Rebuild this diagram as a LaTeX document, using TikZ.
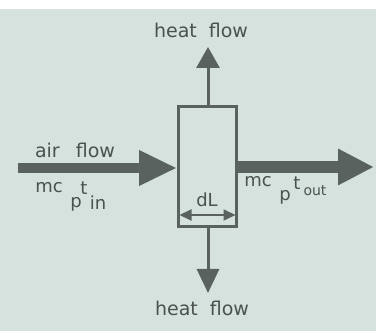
\documentclass[tikz,border=0pt]{standalone}
\usepackage{fontspec}
\setmainfont{DejaVu Sans}
\usetikzlibrary{arrows.meta}
\definecolor{bg}{HTML}{D5E2DD}
\definecolor{ink}{HTML}{4A524E}
\definecolor{arr}{HTML}{59625E}
\tikzset{
  lbl/.style={text=ink, inner sep=0pt, font=\fontsize{19}{22}\selectfont},
  sml/.style={text=ink, inner sep=0pt, font=\fontsize{18}{20}\selectfont},
  tiny/.style={text=ink, inner sep=0pt, font=\fontsize{14}{16}\selectfont},
  elem/.style={draw=arr, line width=3pt, minimum width=58pt, minimum height=120pt, inner sep=0pt},
}
\begin{document}
\begin{tikzpicture}[x=1pt,y=-1pt]
\fill[bg] (0,0) rectangle (376,331);
\fill[white] (0,0) rectangle (376,9);
\useasboundingbox (0,0) rectangle (376,331);
% element
\node[elem] (box) at (207.5,166.5) {};
% free ends
\coordinate (inL) at (18,168);
\coordinate (outR) at (374,167);
\coordinate (up) at (208,47);
\coordinate (down) at (208,293);
% arrows
\draw[arr, line width=10pt, -{Triangle[length=38pt,width=33pt]}] (inL) -- (box.west |- inL);
\draw[arr, line width=12pt, -{Triangle[length=36pt,width=34pt]}] (box.east |- outR) -- (outR);
\draw[arr, line width=3pt, -{Triangle[length=21pt,width=23pt]}] (box.north -| up) -- (up);
\draw[arr, line width=3pt, -{Triangle[length=24pt,width=22pt]}] (box.south -| down) -- (down);
% dL
\coordinate (dla) at (179.5,215);
\coordinate (dlb) at (235.5,215);
\draw[arr, line width=2pt, {Triangle[length=12pt,width=11pt]}-{Triangle[length=12pt,width=11pt]}] (dla) -- (dlb);
\node[sml] (dl) at (207,200) {dL};
% labels
\node[lbl] (airflow) at (75,150) {air\hspace{16pt}flow};
\node[sml] (mcin) at (49,188) {mc};
\node[sml] (tin) at (84,188) {t};
\node[sml] (pin) at (76,204) {p};
\node[sml] (inin) at (98,203) {in};
\node[sml] (mcout) at (258,182) {mc};
\node[sml] (pout) at (285,197) {p};
\node[sml] (tout) at (297,183) {t};
\node[tiny] (outout) at (315,191) {out};
\node[lbl] (heattop) at (201,30) {heat\hspace{12pt}flow};
\node[lbl] (heatbot) at (202,308) {heat\hspace{12pt}flow};
\end{tikzpicture}
\end{document}
